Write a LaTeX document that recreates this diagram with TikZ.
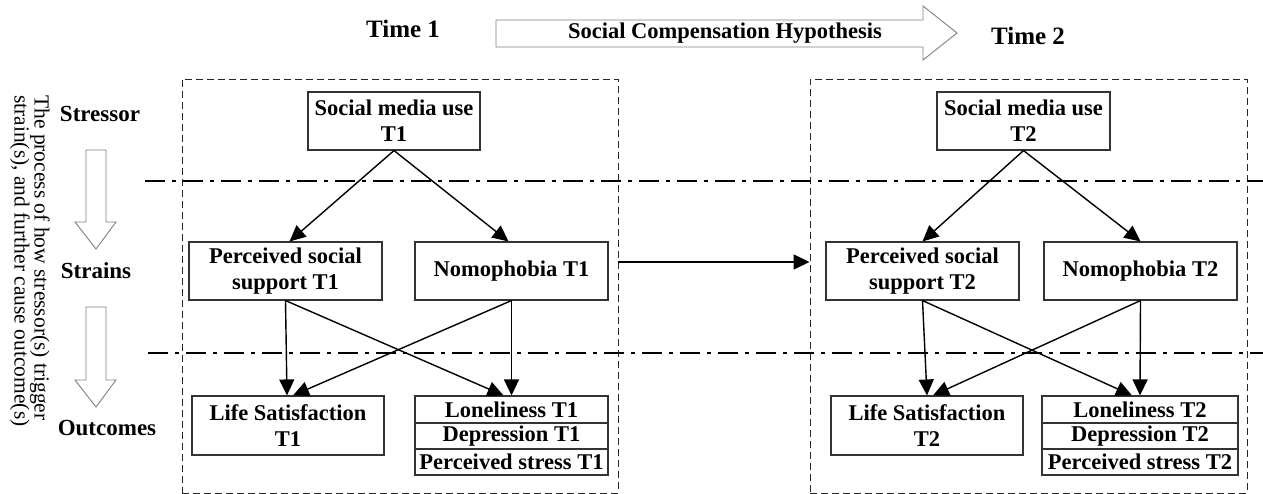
\documentclass[tikz,border=0pt]{standalone}
\usepackage{fontspec}
\setmainfont{Liberation Serif}
\usetikzlibrary{arrows.meta}
\begin{document}
\begin{tikzpicture}[x=1pt,y=-1pt,
  box/.style={draw=black!80,line width=1.1pt,inner sep=0pt,align=center,
    font=\fontsize{22.5}{26}\selectfont\bfseries},
  lbl/.style={inner sep=0pt,font=\fontsize{23}{26}\selectfont\bfseries},
  grp/.style={draw=black!85,line width=0.9pt,dash pattern=on 7pt off 4pt,inner sep=0pt},
  arr/.style={draw=black,line width=1.4pt,-{Triangle[length=16pt,width=15pt]}},
  sep/.style={draw=black,line width=2.6pt,dash pattern=on 20pt off 7pt on 4pt off 7pt},
  hollow/.style={draw=black!50,line width=0.9pt,fill=white}]
\useasboundingbox (0,0) rectangle (1263,494);
% group boxes
\node[grp,minimum width=436pt,minimum height=414pt] (g1) at (400,286) {};
\node[grp,minimum width=437pt,minimum height=414pt] (g2) at (1028.5,286) {};
% separators
\coordinate (s1a) at (145,181); \coordinate (s1b) at (1263,181);
\coordinate (s2a) at (148,353); \coordinate (s2b) at (1263,353);
\draw[sep] (s1a) -- (s1b);
\draw[sep] (s2a) -- (s2b);
% top
\node[lbl,font=\fontsize{25}{28}\selectfont\bfseries] (time1) at (403,29) {Time 1};
\node[lbl,font=\fontsize{25}{28}\selectfont\bfseries] (time2) at (1028,36) {Time 2};
\draw[hollow] (496,20) -- (923,20) -- (923,6) -- (957,33) -- (923,60) -- (923,47) -- (496,47) -- cycle;
\node[lbl,font=\fontsize{22.5}{25}\selectfont\bfseries] (sch) at (725,33) {Social Compensation Hypothesis};
% left side
\node[rotate=-90,anchor=west,align=left,inner sep=0pt,
  font=\fontsize{21.5}{20}\selectfont] (proc) at (30,95)
  {The process of how stressor(s) trigger\\strain(s), and further cause outcome(s)};
\node[lbl] (stressor) at (100,114) {Stressor};
\node[lbl] (strains) at (96,271) {Strains};
\node[lbl] (outcomes) at (107,428) {Outcomes};
\draw[hollow] (86,150) -- (106,150) -- (106,222) -- (116,222) -- (96,249) -- (75,222) -- (86,222) -- cycle;
\draw[hollow] (86,307) -- (106,307) -- (106,380) -- (116,380) -- (96,407) -- (75,380) -- (86,380) -- cycle;
% Time 1 boxes
\node[box,minimum width=172pt,minimum height=58pt] (sm1) at (394,121) {Social media use\\T1};
\node[box,minimum width=193pt,minimum height=58pt] (pss1) at (285.5,271) {Perceived social\\support T1};
\node[box,minimum width=193pt,minimum height=58pt] (nom1) at (511.5,271) {Nomophobia T1};
\node[box,minimum width=192pt,minimum height=59pt] (ls1) at (288,425.5) {Life Satisfaction\\T1};
\node[box,minimum width=193pt,minimum height=27pt] (lon1) at (511.5,409.5) {Loneliness T1};
\node[box,minimum width=193pt,minimum height=26pt] (dep1) at (511.5,436) {Depression T1};
\node[box,minimum width=193pt,minimum height=26pt] (pst1) at (511.5,462) {Perceived stress T1};
% Time 2 boxes
\node[box,minimum width=173pt,minimum height=58pt] (sm2) at (1023.5,121) {Social media use\\T2};
\node[box,minimum width=193pt,minimum height=58pt] (pss2) at (922.5,271) {Perceived social\\support T2};
\node[box,minimum width=193pt,minimum height=58pt] (nom2) at (1140.5,271) {Nomophobia T2};
\node[box,minimum width=192pt,minimum height=59pt] (ls2) at (927,425.5) {Life Satisfaction\\T2};
\node[box,minimum width=196pt,minimum height=27pt] (lon2) at (1140,409.5) {Loneliness T2};
\node[box,minimum width=196pt,minimum height=26pt] (dep2) at (1140,436) {Depression T2};
\node[box,minimum width=196pt,minimum height=26pt] (pst2) at (1140,462) {Perceived stress T2};
% arrows T1
\draw[arr] (sm1.south) -- ([xshift=4pt]pss1.north);
\draw[arr] (sm1.south) -- ([xshift=-3pt]nom1.north);
\draw[arr] (pss1.south) -- ([xshift=-1pt]ls1.north);
\draw[arr] (pss1.south) -- ([xshift=-8pt]lon1.north);
\draw[arr] (nom1.south) -- ([xshift=5pt]ls1.north);
\draw[arr] (nom1.south) -- (lon1.north);
% arrows T2
\draw[arr] (sm2.south) -- (pss2.north);
\draw[arr] (sm2.south) -- (nom2.north);
\draw[arr] (pss2.south) -- ([xshift=0pt]ls2.north);
\draw[arr] (pss2.south) -- ([xshift=-8pt]lon2.north);
\draw[arr] (nom2.south) -- ([xshift=6pt]ls2.north);
\draw[arr] (nom2.south) -- (lon2.north);
% cross-time arrow
\coordinate (yl) at (0,262);
\draw[arr] (g1.east |- yl) -- (g2.west |- yl);
\end{tikzpicture}
\end{document}
